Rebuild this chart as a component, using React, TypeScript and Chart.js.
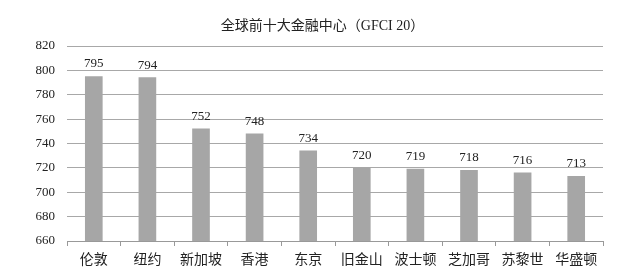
import React, { useEffect, useRef } from "react";
import { Chart, registerables } from "chart.js";

Chart.register(...registerables);

const TITLE = "全球前十大金融中心（GFCI 20）";
const CITIES = ["伦敦", "纽约", "新加坡", "香港", "东京", "旧金山", "波士顿", "芝加哥", "苏黎世", "华盛顿"];
const SCORES = [795, 794, 752, 748, 734, 720, 719, 718, 716, 713];
const Y_MIN = 660;
const Y_MAX = 820;
const Y_STEP = 20;

const FONT_FAMILY = "'Liberation Serif', 'Noto Sans CJK SC', serif";

const valueLabels = {
  id: "valueLabels",
  afterDatasetsDraw(chart: any) {
    const ctx = chart.ctx;
    const meta = chart.getDatasetMeta(0);
    ctx.save();
    ctx.font = `13px ${FONT_FAMILY}`;
    ctx.fillStyle = "#222";
    ctx.textAlign = "center";
    ctx.textBaseline = "alphabetic";
    meta.data.forEach((bar: any, i: number) => {
      ctx.fillText(String(SCORES[i]), bar.x, bar.y - 9);
    });
    ctx.restore();
  },
};

const titlePlugin = {
  id: "centeredTitle",
  afterDraw(chart: any) {
    const ctx = chart.ctx;
    ctx.save();
    ctx.font = `14px ${FONT_FAMILY}`;
    ctx.fillStyle = "#222";
    ctx.textAlign = "center";
    ctx.textBaseline = "middle";
    ctx.fillText(TITLE, chart.width / 2 + 2, 26);
    ctx.restore();
  },
};

export default function App() {
  const ref = useRef<HTMLCanvasElement>(null);
  useEffect(() => {
    document.body.style.margin = "0";
    const chart = new Chart(ref.current!, {
      type: "bar",
      data: {
        labels: CITIES,
        datasets: [
          {
            data: SCORES,
            backgroundColor: "#a6a6a6",
            barThickness: 17,
          },
        ],
      },
      options: {
        animation: false,
        responsive: false,
        maintainAspectRatio: false,
        layout: { padding: { left: 0, right: 38, top: 46, bottom: 0 } },
        plugins: {
          legend: { display: false },
          tooltip: { enabled: false },
          title: { display: false },
        },
        scales: {
          x: {
            grid: {
              display: true,
              drawOnChartArea: false,
              drawTicks: true,
              tickLength: 5,
              color: "#999",
              offset: true,
            },
            border: { display: true, color: "#999" },
            ticks: {
              color: "#222",
              font: { family: FONT_FAMILY, size: 14 },
              padding: 6,
              maxRotation: 0,
              autoSkip: false,
            },
            afterFit(scale: any) {
              scale.height = 33;
            },
          },
          y: {
            min: Y_MIN,
            max: Y_MAX,
            grid: { color: "#a8a8a8", drawTicks: false },
            border: { display: false },
            ticks: {
              stepSize: Y_STEP,
              color: "#222",
              font: { family: FONT_FAMILY, size: 13 },
              padding: 12,
            },
            afterFit(scale: any) {
              scale.width = 67;
            },
          },
        },
      },
      plugins: [valueLabels, titlePlugin],
    });
    return () => chart.destroy();
  }, []);
  return (
    <div style={{ position: "absolute", left: 0, top: 0, width: 641, height: 274, background: "#fff" }}>
      <canvas ref={ref} width={641} height={274} />
    </div>
  );
}
